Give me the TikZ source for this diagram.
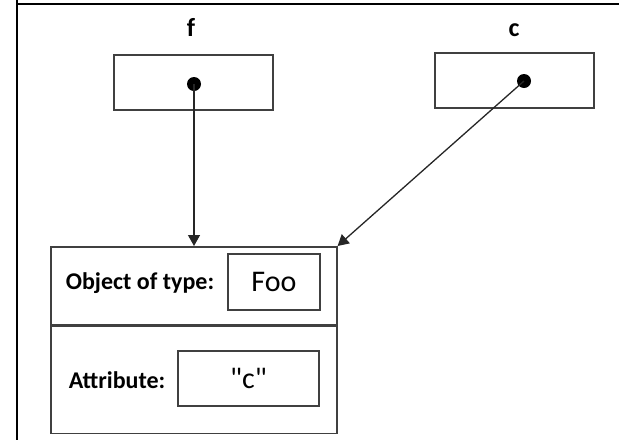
\documentclass[tikz,border=0pt]{standalone}
\usepackage{fontspec}
\setmainfont{Carlito}
\newfontfamily\valuefont{Carlito}
\usetikzlibrary{arrows.meta}
\begin{document}
\begin{tikzpicture}[
  x=1pt, y=-1pt,
  % Node styles
  varname/.style={font=\fontsize{26}{30}\selectfont\bfseries, inner sep=0pt, anchor=base},
  slot/.style={draw=black!75, line width=1.6pt, minimum width=159pt, minimum height=55pt, inner sep=0pt},
  pointer/.style={circle, fill=black, minimum size=14pt, inner sep=0pt},
  section/.style={draw=black!75, line width=1.6pt, minimum width=286pt, inner sep=0pt, anchor=north west},
  field/.style={font=\fontsize{24}{28}\selectfont\bfseries, inner sep=0pt},
  value/.style={draw=black!75, line width=1.6pt, font=\valuefont\fontsize{30}{34}\selectfont, inner sep=0pt},
  % Edge styles
  reference/.style={-{Triangle[length=11pt, width=12pt]}, black!85, line width=1.3pt},
  frame/.style={black, line width=2pt},
]
\useasboundingbox (0,0) rectangle (619,440);

% === TABLE CELL BORDER ===
\draw[frame] (17,0) -- (17,440);
\draw[frame] (16,4) -- (619,4);

% === VARIABLES ===
\node[varname] (fname) at (191,36) {f};
\node[slot]    (fbox)  at (193.5,82.5) {};
\node[pointer] (fptr)  at (194,84) {};

\node[varname] (cname) at (514,36) {c};
\node[slot]    (cbox)  at (514.5,80.5) {};
\node[pointer] (cptr)  at (524,81) {};

% === OBJECT ===
\node[section, minimum height=78pt]  (objtop) at (50,246) {};
\node[section, minimum height=107pt] (objbot) at (objtop.south west) {};

\node[field] (typelbl) at (140,283) {Object of type:};
\node[value, minimum width=92pt, minimum height=56pt] (typeval) at (274,282) {Foo};

\node[field] (attrlbl) at (117,380) {Attribute:};
\node[value, minimum width=141pt, minimum height=55pt] (attrval) at (248.5,378.5) {"c"};

% === REFERENCES ===
\draw[reference] (fptr.center) -- (fptr.center |- objtop.north);
\draw[reference] (cptr.center) -- (objtop.north east);

\end{tikzpicture}
\end{document}
